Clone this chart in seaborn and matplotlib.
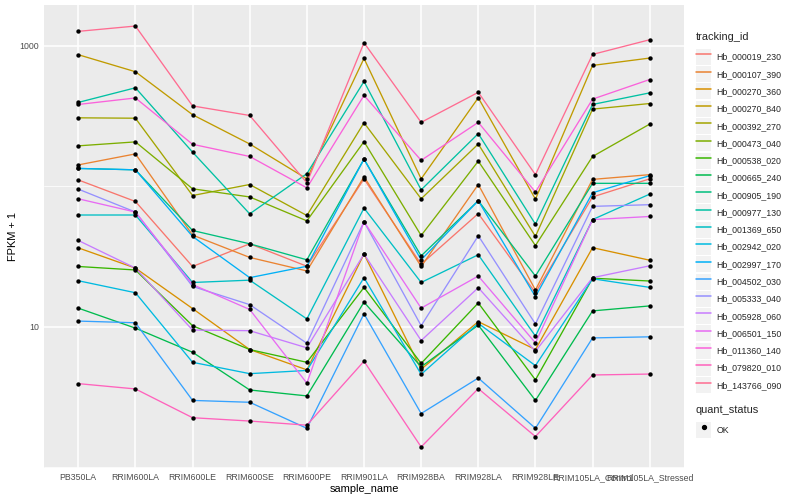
import numpy as np
import pandas as pd
import seaborn as sns
import matplotlib.pyplot as plt
from matplotlib.lines import Line2D
from matplotlib.patches import Patch
from matplotlib.legend_handler import HandlerTuple
from matplotlib.ticker import FixedLocator, NullFormatter

# sample order on the x axis
samples = ["PB350LA", "RRIM600LA", "RRIM600LE", "RRIM600SE", "RRIM600PE", "RRIM901LA",
           "RRIM928BA", "RRIM928LA", "RRIM928LE", "RRIM105LA_Control", "RRIM105LA_Stressed"]

tracking_ids = ["Hb_000019_230", "Hb_000107_390", "Hb_000270_360", "Hb_000270_840",
                "Hb_000392_270", "Hb_000473_040", "Hb_000538_020", "Hb_000665_240",
                "Hb_000905_190", "Hb_000977_130", "Hb_001369_650", "Hb_002942_020",
                "Hb_002997_170", "Hb_004502_030", "Hb_005333_040", "Hb_005928_060",
                "Hb_006501_150", "Hb_011360_140", "Hb_079820_010", "Hb_143766_090"]

# FPKM + 1 (one list per gene, in sample order)
hb_000019_230 = [111, 78, 26.9, 39, 27, 113, 27.9, 64, 17.5, 84, 113]
hb_000107_390 = [142, 170, 45, 31.2, 25, 117, 26.9, 103, 18.3, 112, 121]
hb_000270_360 = [36.5, 26.2, 13.5, 6.9, 4.95, 33, 5.0, 10.9, 6.9, 36.6, 29.8]
hb_000270_840 = [863, 653, 323, 200, 113, 812, 113, 426, 81, 724, 817]
hb_000392_270 = [307, 305, 86, 103, 62, 283, 81.5, 200, 44, 354, 388]
hb_000473_040 = [194, 207, 96, 84, 56.8, 208, 44.7, 151, 37.9, 163, 277]
hb_000538_020 = [26.9, 25.4, 10.2, 6.9, 5.6, 19.1, 5.5, 14.8, 4.2, 22.2, 21.2]
hb_000665_240 = [13.6, 9.8, 6.6, 3.56, 3.23, 15, 5.2, 10.3, 3.0, 13, 14.1]
hb_000905_190 = [134, 131, 48.5, 39, 30, 156, 32, 79, 23, 105, 105]
hb_000977_130 = [395, 502, 175, 63.7, 123, 557, 94.4, 237, 53.8, 382, 462]
hb_001369_650 = [62.5, 62.5, 20.7, 21.5, 11.4, 70, 20.7, 32.6, 8.6, 58, 88]
hb_002942_020 = [21.3, 17.5, 5.6, 4.65, 4.9, 22.4, 4.6, 10.6, 5.3, 22, 19.1]
hb_002997_170 = [134, 131, 44, 22.4, 27, 156, 30, 79, 16.4, 90, 119]
hb_004502_030 = [11, 10.7, 3.0, 2.91, 1.9, 12.4, 2.42, 4.33, 1.9, 8.35, 8.5]
hb_005333_040 = [95.5, 65.6, 19.4, 14.4, 7.65, 56, 10.2, 44.5, 10.5, 72, 74]
hb_005928_060 = [41.2, 26.2, 9.5, 9.4, 7.1, 33, 8.0, 19, 6.7, 22.4, 27.2]
hb_006501_150 = [81.5, 65.6, 20, 13.3, 3.98, 56, 13.6, 23, 7.7, 58, 61]
hb_011360_140 = [382, 425, 199, 163, 97.5, 443, 153, 285, 91, 417, 575]
hb_079820_010 = [3.95, 3.62, 2.26, 2.14, 2.0, 5.7, 1.4, 3.64, 1.66, 4.55, 4.62]
hb_143766_090 = [1265, 1380, 373, 319, 106, 1050, 285, 466, 121, 867, 1103]

all_values = [hb_000019_230, hb_000107_390, hb_000270_360, hb_000270_840, hb_000392_270,
              hb_000473_040, hb_000538_020, hb_000665_240, hb_000905_190, hb_000977_130,
              hb_001369_650, hb_002942_020, hb_002997_170, hb_004502_030, hb_005333_040,
              hb_005928_060, hb_006501_150, hb_011360_140, hb_079820_010, hb_143766_090]

# ggplot default hue palette for 20 levels
colours = ["#F8766D", "#EA8331", "#D89000", "#C09B00", "#A3A500", "#7CAE00", "#39B600",
           "#00BB4E", "#00BF7D", "#00C1A3", "#00BFC4", "#00BAE0", "#00B0F6", "#35A2FF",
           "#9590FF", "#C77CFF", "#E76BF3", "#FA62DB", "#FF62BC", "#FF6C91"]

rows = []
for tid, vals in zip(tracking_ids, all_values):
    for i, (s, v) in enumerate(zip(samples, vals)):
        rows.append({"tracking_id": tid, "sample_name": s, "pos": i, "fpkm": v, "quant_status": "OK"})
df = pd.DataFrame(rows)

sns.set_theme(style="darkgrid", rc={"axes.facecolor": "#EBEBEB", "grid.color": "white"})
plt.rcParams["font.family"] = ["Liberation Sans", "DejaVu Sans"]

fig = plt.figure(figsize=(8, 5), dpi=100)
ax = fig.add_axes([44 / 800, 32 / 500, 640 / 800, 463 / 500])
ax.set_yscale("log")

sns.lineplot(data=df, x="pos", y="fpkm", hue="tracking_id", hue_order=tracking_ids,
             palette=colours, estimator=None, sort=False, lw=0.95, legend=False, ax=ax)
sns.scatterplot(data=df, x="pos", y="fpkm", color="black", s=10, linewidth=0,
                legend=False, ax=ax, zorder=3)

# limits like ggplot: 0.6 on discrete x, 5% in log space on y
ax.set_xlim(-0.6, len(samples) - 0.4)
lo, hi = np.log10(df["fpkm"].min()), np.log10(df["fpkm"].max())
pad = 0.05 * (hi - lo)
ax.set_ylim(10 ** (lo - pad), 10 ** (hi + pad))

ax.set_xticks(range(len(samples)))
ax.set_xticklabels(samples)
ax.set_yticks([10, 1000])
ax.set_yticklabels(["10", "1000"])
ax.yaxis.set_minor_locator(FixedLocator([1, 100, 10000]))
ax.yaxis.set_minor_formatter(NullFormatter())

ax.grid(which="major", color="white", lw=1.1)
ax.grid(which="minor", axis="y", color="white", lw=0.55)
ax.tick_params(axis="both", which="major", length=2, width=0.8, color="#333333",
               labelsize=6.3, labelcolor="#4D4D4D", pad=1.5)
ax.tick_params(axis="y", which="minor", length=0)
for sp in ax.spines.values():
    sp.set_visible(False)

ax.set_xlabel("sample_name", fontsize=7.9, color="black", labelpad=1.5)
ax.set_ylabel("FPKM + 1", fontsize=7.9, color="black", labelpad=1)

# legends, with grey key boxes like ggplot
leg_kw = dict(loc="upper left", frameon=False, fontsize=6.3, title_fontsize=7.9,
              handlelength=1.75, handleheight=2.43, labelspacing=0.15,
              handletextpad=0.6, borderaxespad=0, borderpad=0,
              handler_map={tuple: HandlerTuple(ndivide=1)})

handles = [(Patch(facecolor="#F2F2F2", edgecolor="none"), Line2D([], [], color=c, lw=1.1))
           for c in colours]
leg1 = fig.legend(handles, tracking_ids, title="tracking_id",
                  bbox_to_anchor=(696 / 800, 1 - 32 / 500), **leg_kw)
leg1._legend_box.align = "left"
leg1._legend_box.sep = 5

ok_handle = [(Patch(facecolor="#F2F2F2", edgecolor="none"),
              Line2D([], [], color="black", marker="o", ls="none", markersize=2.8))]
leg2 = fig.legend(ok_handle, ["OK"], title="quant_status",
                  bbox_to_anchor=(696 / 800, 1 - 405 / 500), **leg_kw)
leg2._legend_box.align = "left"
leg2._legend_box.sep = 5

fig.savefig("out.png", dpi=100)
